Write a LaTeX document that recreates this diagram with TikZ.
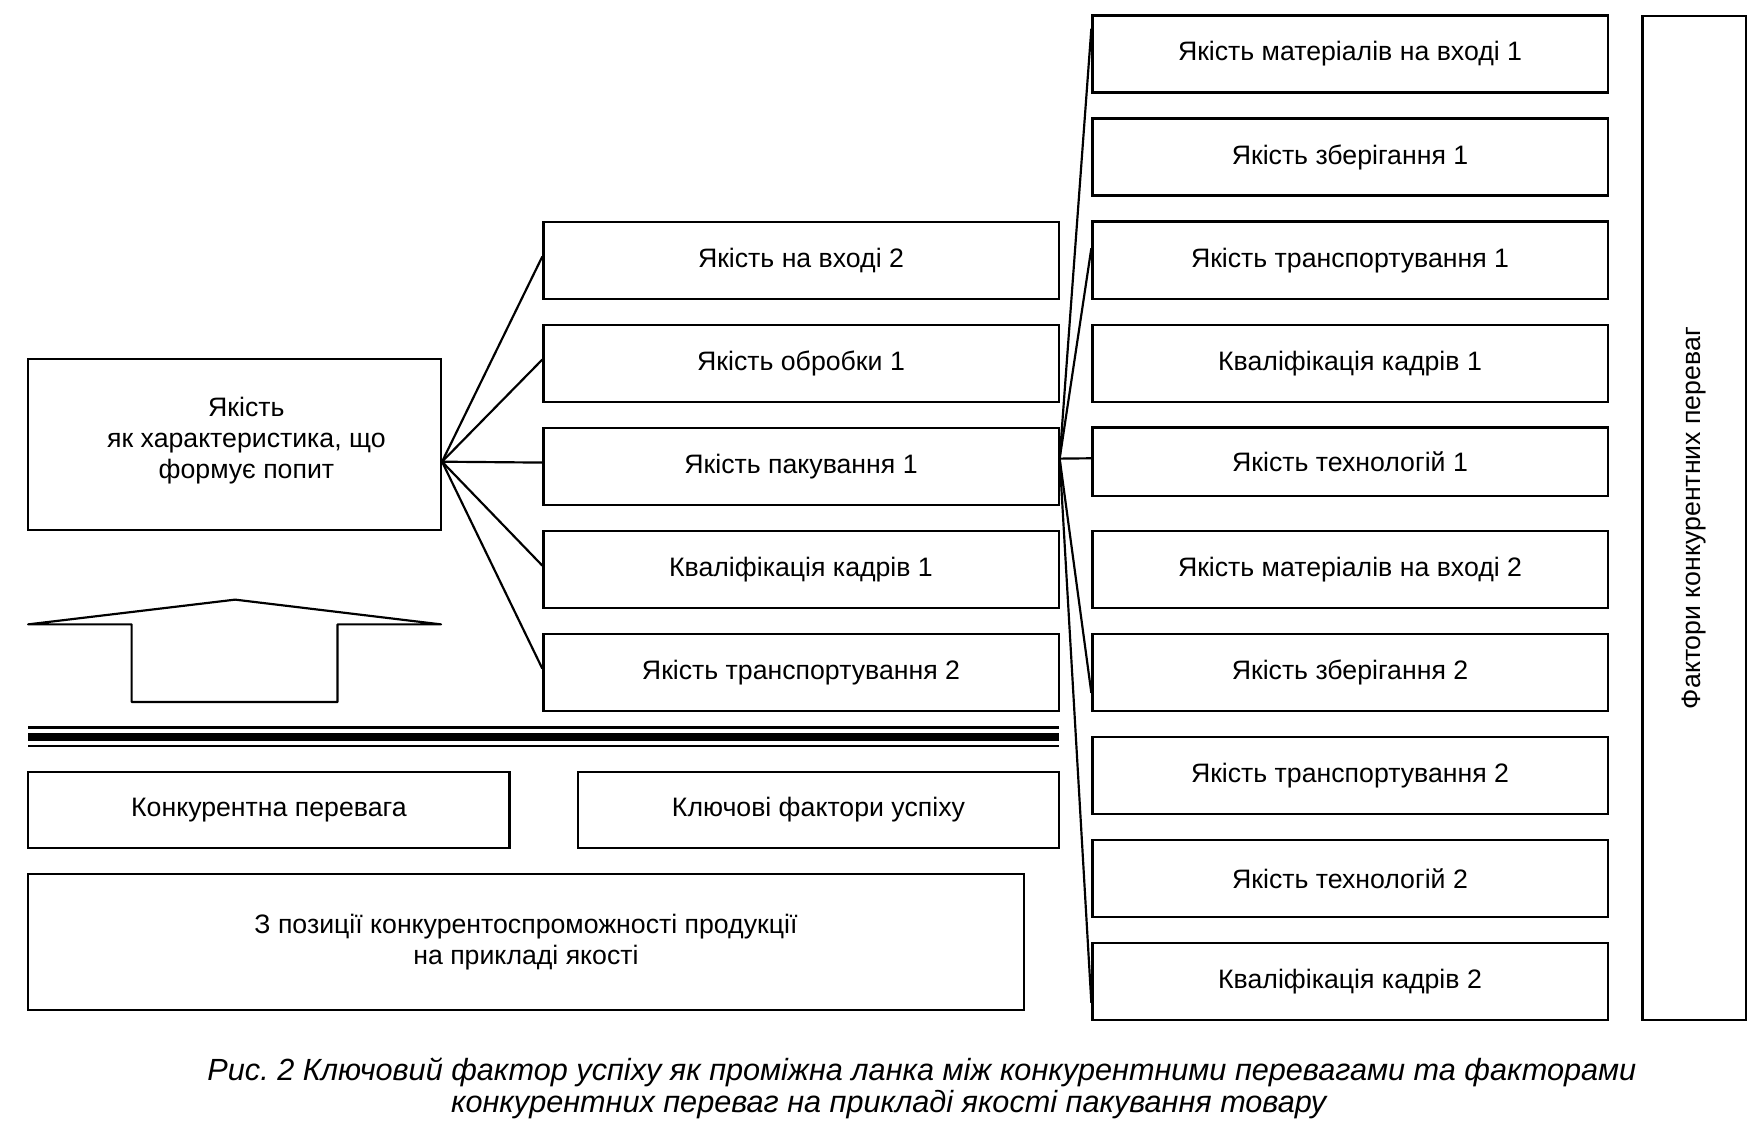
\documentclass[tikz,border=0pt]{standalone}
\usepackage{fontspec}
\setmainfont{Liberation Sans}
\usetikzlibrary{calc}

\begin{document}
\begin{tikzpicture}[x=0.02cm, y=-0.02cm,
		box/.style={draw, line width=1.1pt, minimum width=9.16cm, minimum height=1.37cm, inner sep=2pt, align=center, font=\fontsize{13.5}{15.6}\selectfont},
		link/.style={line width=1.1pt},
		caption/.style={font=\fontsize{15.5}{19}\selectfont\itshape\frenchspacing}]
		\useasboundingbox (0,0) rectangle (1568,1001);
		%Left
		\node [box, minimum width=7.34cm, minimum height=3.04cm,
			label={[font=\fontsize{13.5}{15.6}\selectfont, align=center, xshift=0.21cm, yshift=0.07cm]center:Якість\\ як характеристика, що\\ формує попит}] (quality) at (208.5,395) {};
		\draw [line width=1.1pt, line join=round] (25,555) -- (117,555) -- (117,624) -- (300,624) -- (300,555) -- (392,555) -- (209,533) -- cycle;
		%Middle
		\node [box] (m1) at (712,231.5) {Якість на вході 2};
		\node [box] (m2) at (712,323.1) {Якість обробки 1};
		\node [box] (m3) at (712,414.7) {Якість пакування 1};
		\node [box] (m4) at (712,506.3) {Кваліфікація кадрів 1};
		\node [box] (m5) at (712,597.9) {Якість транспортування 2};
		%Right
		\node [box] (r1) at (1200,48) {Якість матеріалів на вході 1};
		\node [box] (r2) at (1200,139.6) {Якість зберігання 1};
		\node [box] (r3) at (1200,231.2) {Якість транспортування 1};
		\node [box] (r4) at (1200,322.8) {Кваліфікація кадрів 1};
		\node [box, minimum height=1.22cm] (r5) at (1200,410.5) {Якість технологій 1};
		\node [box] (r6) at (1200,506) {Якість матеріалів на вході 2};
		\node [box] (r7) at (1200,597.6) {Якість зберігання 2};
		\node [box] (r8) at (1200,689.2) {Якість транспортування 2};
		\node [box] (r9) at (1200,780.8) {Якість технологій 2};
		\node [box] (r10) at (1200,872.4) {Кваліфікація кадрів 2};
		\node [box, rotate=90, minimum width=17.86cm, minimum height=1.84cm] (factors) at (1506,460.5) {Фактори конкурентних переваг};
		%Links
		\coordinate (qo) at ($(quality.north east)!0.6!(quality.south east)$);
		\foreach \m in {m1,m2,m3,m4,m5}
			\draw [link] (qo) -- ($(\m.north west)!0.45!(\m.south west)$);
		\coordinate (po) at ($(m3.north east)!0.4!(m3.south east)$);
		\foreach \r/\p in {r1/0.18,r3/0.35,r5/0.45,r7/0.76,r10/0.77}
			\draw [link] (po) -- ($(\r.north west)!\p!(\r.south west)$);
		%Bottom
		\draw [line width=1.3pt] (25,646.5) -- (941,646.5);
		\draw [line width=4pt] (25,654.7) -- (941,654.7);
		\draw [line width=1.3pt] (25,663) -- (941,663);
		\node [box, minimum width=8.56cm, minimum height=1.36cm] (advantage) at (239,720) {Конкурентна перевага};
		\node [box, minimum width=8.54cm, minimum height=1.36cm] (keys) at (727.5,720) {Ключові фактори успіху};
		\node [box, minimum width=17.7cm, minimum height=2.42cm] (position) at (467.5,837.5) {З позиції конкурентоспроможності продукції\\ на прикладі якості};
		%Caption
		\node [caption] (cap1) at (819.5,953) {Рис. 2 Ключовий фактор успіху як проміжна ланка між конкурентними перевагами та факторами};
		\node [caption] (cap2) at (790,982) {конкурентних переваг на прикладі якості пакування товару};
	\end{tikzpicture}
\end{document}
